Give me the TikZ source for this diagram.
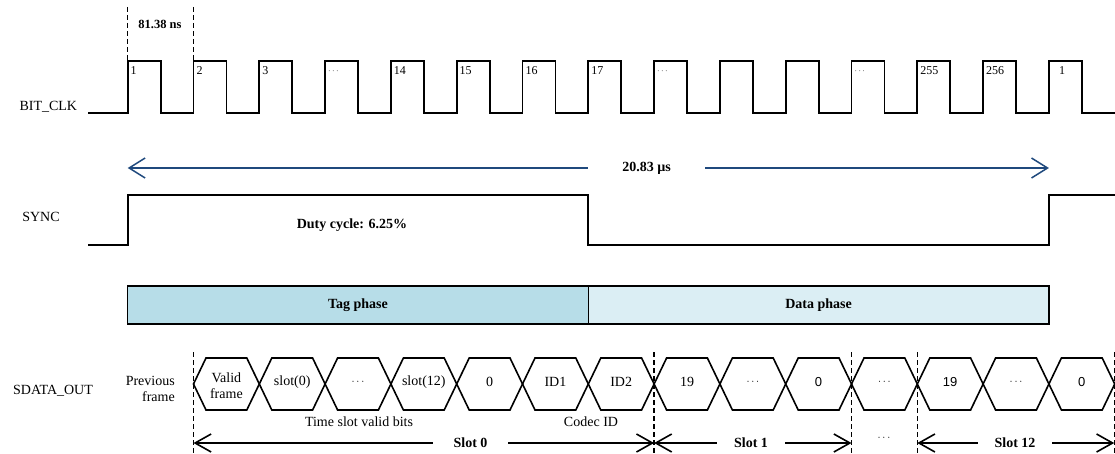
\documentclass[tikz,border=0pt]{standalone}
\usepackage{fontspec}
\setmainfont{Liberation Serif}
\newfontfamily\sansf{Liberation Sans}
\usetikzlibrary{arrows.meta}
\definecolor{arrowblue}{RGB}{31,73,125}
\definecolor{tagfill}{RGB}{183,221,232}
\definecolor{datafill}{RGB}{219,238,244}
\newcommand\mydots{\scalebox{0.75}{$\cdots$}}
\tikzset{
  sigline/.style={line width=1.8pt, line join=miter, black},
  hexline/.style={line width=1.6pt, line join=miter, black},
  dashline/.style={line width=1.4pt, dash pattern=on 5pt off 3pt, black},
  siglbl/.style={font=\fontsize{14}{16}\selectfont, inner sep=0pt, anchor=base},
  clklbl/.style={font=\fontsize{12}{14}\selectfont, inner sep=1pt},
  hexlbl/.style={font=\fontsize{14}{16}\selectfont, inner sep=0pt},
  boldlbl/.style={font=\bfseries\fontsize{14}{16}\selectfont, inner sep=0pt},
  phasebox/.style={draw, line width=1.4pt, font=\bfseries\fontsize{14}{16}\selectfont, inner sep=0pt},
  bluearrow/.style={line width=1.5pt, arrowblue, -{Straight Barb[length=16pt,width=20pt,line width=1.5pt]}},
  slotarrow/.style={line width=1.6pt, black, -{Straight Barb[length=16pt,width=18pt,line width=1.6pt]}},
}
\begin{document}
\begin{tikzpicture}[x=1pt,y=-1pt]
\useasboundingbox (0,0) rectangle (1115,454);

% ---------- labels on the left
\node[siglbl] (lclk) at (48.3,110.5) {BIT\_CLK};
\node[siglbl] (lsync) at (41,221.5) {SYNC};
\node[siglbl] (lsd) at (53,394) {SDATA\_OUT};

% ---------- BIT_CLK
\draw[sigline] (88,113) foreach \k in {0,...,14}{
  -- ({127.7+\k*65.8},113) -- ({127.7+\k*65.8},61)
  -- ({160.6+\k*65.8},61) -- ({160.6+\k*65.8},113)} -- (1115,113);
\foreach \k/\t in {0/1,1/2,2/3,4/14,5/15,6/16,7/17,12/255,13/256}
  \node[clklbl, anchor=north west] (c\k) at ({129.5+\k*65.8},65) {\t};
\foreach \k in {3,8,11}
  \node[clklbl, anchor=west] (c\k) at ({129.5+\k*65.8},72) {\mydots};
\node[clklbl, anchor=north west] (c14) at (1058,65) {1};

\draw[dashline] (127.7,7) -- (127.7,61);
\draw[dashline] (193.5,7) -- (193.5,61);
\node[font=\bfseries\fontsize{12.5}{14}\selectfont, inner sep=0pt] (period) at (160,24) {81.38 ns};

% ---------- frame length arrow
\coordinate (pl) at (127.7,168);
\coordinate (pr) at (1048.9,168);
\node[boldlbl, minimum width=117pt] (frame) at (646.5,168) {20.83 µs};
\draw[bluearrow] (frame.west) -- (pl);
\draw[bluearrow] (frame.east) -- (pr);

% ---------- SYNC
\draw[sigline] (88,245) -- (127.7,245) -- (127.7,195) -- (588.3,195)
  -- (588.3,245) -- (1048.9,245) -- (1048.9,195) -- (1115,195);
\node[boldlbl] (duty) at (352,225) {Duty cycle: 6.25\%};

% ---------- phases
\node[phasebox, fill=tagfill, minimum width=460.6pt, minimum height=38pt] (tag) at (358,305) {Tag phase};
\node[phasebox, fill=datafill, minimum width=460.6pt, minimum height=38pt] (data) at (818.6,305) {Data phase};

% ---------- SDATA_OUT
\node[hexlbl, align=right, anchor=east] (prev) at (175,389) {Previous\\frame};
\foreach \i in {0,...,13}{
  \pgfmathsetmacro\L{193.5+\i*65.8}
  \pgfmathsetmacro\R{\L+65.8}
  \draw[hexline] (\L,384) -- ({\L+12.5},358) -- ({\R-12.5},358) -- (\R,384)
    -- ({\R-12.5},410) -- ({\L+12.5},410) -- cycle;
}
\node[hexlbl, align=center] (h0) at (226.4,386) {Valid\\frame};
\foreach \i/\t in {1/slot(0),2/\mydots,3/slot(12),4/0,5/ID1,6/ID2,7/19,8/\mydots,10/\mydots,12/\mydots}
  \node[hexlbl] (h\i) at ({226.4+\i*65.8},382) {\t};
\foreach \i/\t in {9/0,11/19,13/0}
  \node[hexlbl, font=\sansf\fontsize{13}{15}\selectfont] (h\i) at ({226.4+\i*65.8},382) {\t};

\foreach \x in {193.5,654.1,851.5,917.3,1114.2}
  \draw[dashline] (\x,352) -- (\x,454);

\node[hexlbl] (tsv) at (359,422) {Time slot valid bits};
\node[hexlbl] (cid) at (591,422) {Codec ID};

% ---------- slot arrows
\coordinate (s0l) at (193.5,443);
\coordinate (s0r) at (654.1,443);
\coordinate (s1l) at (654.1,443);
\coordinate (s1r) at (851.5,443);
\coordinate (s12l) at (917.3,443);
\coordinate (s12r) at (1114.2,443);
\node[boldlbl, minimum width=75pt] (s0) at (470.5,443) {Slot 0};
\node[boldlbl, minimum width=68pt] (s1) at (751,443) {Slot 1};
\node[boldlbl, minimum width=74pt] (s12) at (1015,443) {Slot 12};
\draw[slotarrow] (s0.west) -- (s0l);
\draw[slotarrow] (s0.east) -- (s0r);
\draw[slotarrow] (s1.west) -- (s1l);
\draw[slotarrow] (s1.east) -- (s1r);
\draw[slotarrow] (s12.west) -- (s12l);
\draw[slotarrow] (s12.east) -- (s12r);
\node[hexlbl] (sdots) at (884,438) {\mydots};
\end{tikzpicture}
\end{document}
